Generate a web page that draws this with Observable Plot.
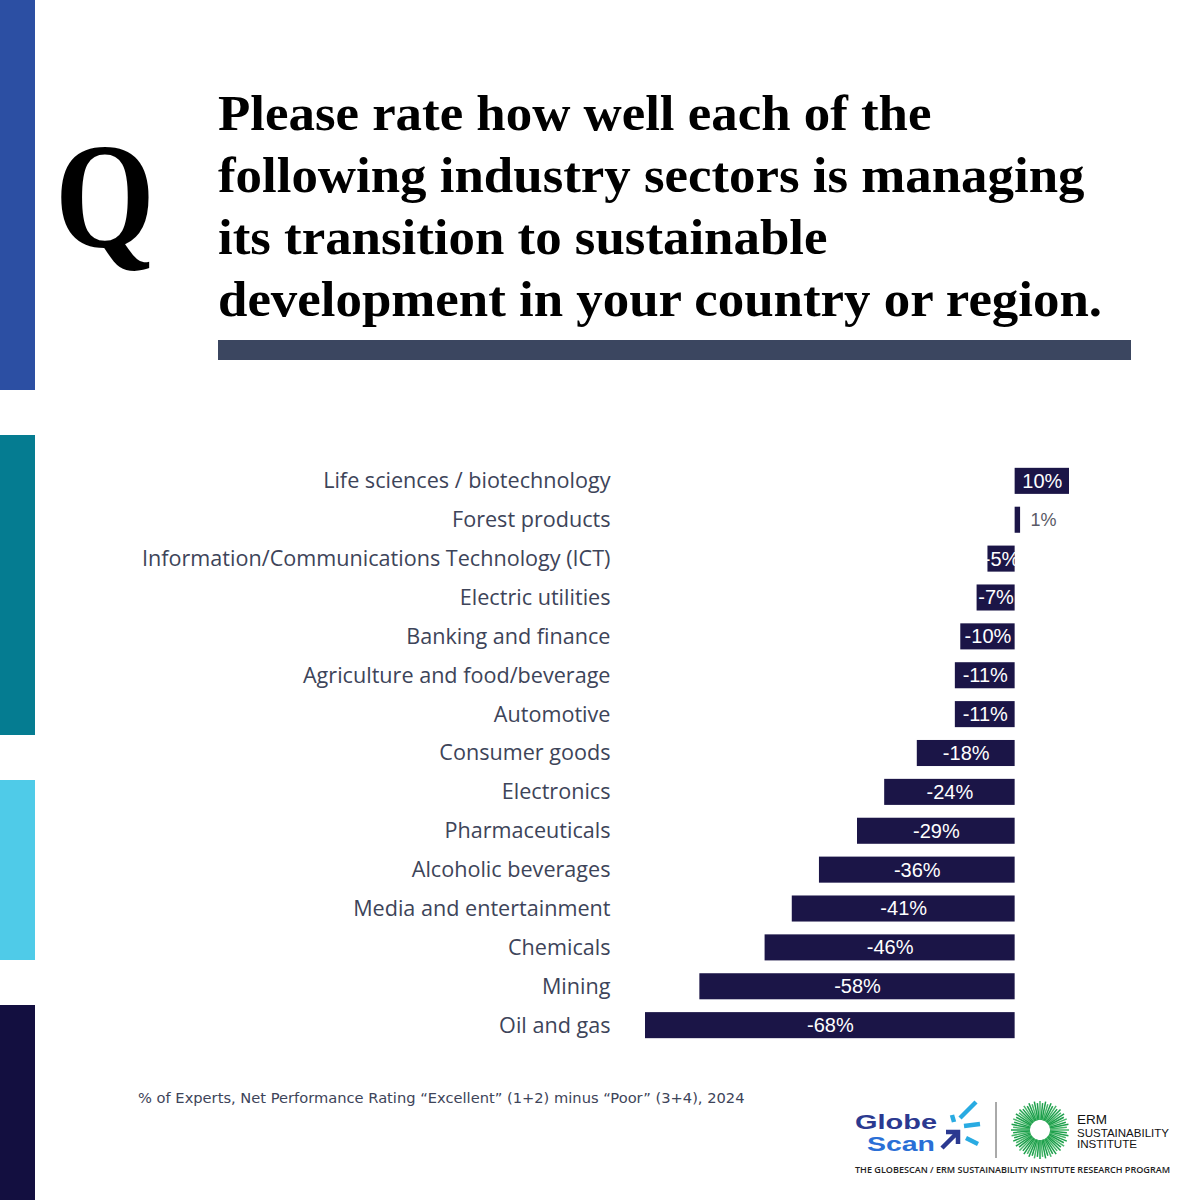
<!DOCTYPE html>
<html>
<head>
<meta charset="utf-8">
<script src="https://cdn.jsdelivr.net/npm/d3@7"></script>
<script src="https://cdn.jsdelivr.net/npm/@observablehq/plot@0.6"></script>
<style>
  html, body { margin: 0; padding: 0; background: #ffffff; }
  body { width: 1200px; height: 1200px; position: relative; overflow: hidden; }
  .stripe { position: absolute; left: 0; width: 35px; }
  #q { position: absolute; left: 55px; top: 96px; font-family: "Liberation Serif", serif; font-weight: 700;
       font-size: 150px; line-height: 200px; color: #000; transform: scaleX(0.855); transform-origin: left top; }
  #title { position: absolute; left: 218px; top: 82px; font-family: "Liberation Serif", serif; font-weight: 700;
           color: #000; font-size: 50px; line-height: 62px; white-space: nowrap; transform-origin: left top; }
  #rule { position: absolute; left: 218px; top: 340px; width: 913px; height: 20px; background: #3b4660; }
  #chart { position: absolute; left: 0; top: 440px; }
  #caption { position: absolute; left: 138px; top: 1089px; font-family: "DejaVu Sans", sans-serif; font-size: 13px;
             color: #3d4459; white-space: nowrap; }
  #logo { position: absolute; left: 840px; top: 1090px; }
</style>
</head>
<body>
<div class="stripe" style="top:0;height:390px;background:#2c4fa3"></div>
<div class="stripe" style="top:435px;height:300px;background:#057c91"></div>
<div class="stripe" style="top:780px;height:180px;background:#4fcbe8"></div>
<div class="stripe" style="top:1005px;height:195px;background:#130f40"></div>

<div id="q">Q</div>
<div id="title">
  <div class="tl">Please rate how well each of the</div>
  <div class="tl">following industry sectors is managing</div>
  <div class="tl">its transition to sustainable</div>
  <div class="tl">development in your country or region.</div>
</div>
<div id="rule"></div>
<div id="chart"></div>
<div id="caption">% of Experts, Net Performance Rating “Excellent” (1+2) minus “Poor” (3+4), 2024</div>
<svg id="logo" width="360" height="110" viewBox="0 0 360 110"></svg>

<script>
// ---- Data ----
const sectors = [
  "Life sciences / biotechnology",
  "Forest products",
  "Information/Communications Technology (ICT)",
  "Electric utilities",
  "Banking and finance",
  "Agriculture and food/beverage",
  "Automotive",
  "Consumer goods",
  "Electronics",
  "Pharmaceuticals",
  "Alcoholic beverages",
  "Media and entertainment",
  "Chemicals",
  "Mining",
  "Oil and gas"
];
const netRatings = [10, 1, -5, -7, -10, -11, -11, -18, -24, -29, -36, -41, -46, -58, -68];
const valueLabels = ["10%", "1%", "-5%", "-7%", "-10%", "-11%", "-11%", "-18%", "-24%", "-29%", "-36%", "-41%", "-46%", "-58%", "-68%"];

const rows = sectors.map((s, i) => ({sector: s, value: netRatings[i], label: valueLabels[i]}));
const inside = rows.filter(d => Math.abs(d.value) >= 5);
const outside = rows.filter(d => Math.abs(d.value) < 5);

const chart = Plot.plot({
  width: 1200,
  height: 640,
  marginLeft: 645,
  marginRight: 131,
  marginTop: 15,
  marginBottom: 29,
  style: {background: "transparent", color: "#3d4459", fontFamily: "'Open Sans', 'Noto Sans', sans-serif"},
  x: {domain: [d3.min(netRatings), d3.max(netRatings)], axis: null},
  y: {domain: sectors, padding: 0.33, round: false, label: null, axis: null},
  marks: [
    Plot.barX(rows, {x: "value", y: "sector", fill: "#1b1547"}),
    Plot.axisY({tickSize: 0, tickPadding: 35, fontSize: 21.6, label: null}),
    Plot.text(inside, {x: d => d.value / 2, y: "sector", text: "label", fill: "#ffffff", fontSize: 20,
                       fontFamily: "'Liberation Sans', Arial, sans-serif"}),
    Plot.text(outside, {x: "value", y: "sector", text: "label", fill: "#5a5a66", fontSize: 18, dx: 10,
                        textAnchor: "start", fontFamily: "'Liberation Sans', Arial, sans-serif"})
  ]
});
document.getElementById("chart").appendChild(chart);

// ---- Fit title / caption widths to the reference ----
(function fit() {
  const title = document.getElementById("title");
  const lines = title.querySelectorAll(".tl");
  let w = 0;
  lines.forEach(l => { l.style.display = "inline-block"; w = Math.max(w, l.getBoundingClientRect().width); l.style.display = "block"; });
  title.style.transform = "scaleX(" + (884 / w).toFixed(4) + ")";
  const cap = document.getElementById("caption");
  const cw = cap.getBoundingClientRect().width;
  cap.style.fontSize = (13 * 607 / cw).toFixed(2) + "px";
})();

// ---- Logo (decorative) ----
(function drawLogo() {
  const svg = d3.select("#logo");
  const ffb = "'Liberation Sans', Arial, sans-serif";
  svg.append("text").attr("x", 15).attr("y", 39).attr("fill", "#2b3990")
    .attr("font-family", ffb).attr("font-weight", 700).attr("font-size", 19.5)
    .attr("textLength", 82).attr("lengthAdjust", "spacingAndGlyphs").text("Globe");
  svg.append("text").attr("x", 27).attr("y", 61).attr("fill", "#2a6fd6")
    .attr("font-family", ffb).attr("font-weight", 700).attr("font-size", 19.5)
    .attr("textLength", 68).attr("lengthAdjust", "spacingAndGlyphs").text("Scan");
  // burst icon
  const cyan = "#29abe2";
  [[120, 28, 136, 12], [124, 36, 140, 34], [126, 48, 138, 54], [112, 25, 114, 32]].forEach(([x1, y1, x2, y2]) =>
    svg.append("line").attr("x1", x1).attr("y1", y1).attr("x2", x2).attr("y2", y2)
      .attr("stroke", cyan).attr("stroke-width", 4.5).attr("stroke-linecap", "butt"));
  svg.append("path").attr("d", "M102 58 L116 44 M106 42 L118 42 L118 54")
    .attr("fill", "none").attr("stroke", "#2b3990").attr("stroke-width", 4.5);
  // divider
  svg.append("line").attr("x1", 156).attr("y1", 12).attr("x2", 156).attr("y2", 68)
    .attr("stroke", "#555").attr("stroke-width", 1);
  // sunburst
  const cx = 200, cy = 40;
  const g = svg.append("g");
  for (let i = 0; i < 64; i++) {
    const a = i / 64 * 2 * Math.PI;
    const r2 = i % 2 ? 27 : 29;
    g.append("line")
      .attr("x1", cx + 10 * Math.cos(a)).attr("y1", cy + 10 * Math.sin(a))
      .attr("x2", cx + r2 * Math.cos(a)).attr("y2", cy + r2 * Math.sin(a))
      .attr("stroke", i % 3 ? "#1ea04c" : "#48b66a").attr("stroke-width", 1.5);
  }
  const ff = "'Liberation Sans', Arial, sans-serif";
  svg.append("text").attr("x", 237).attr("y", 34).text("ERM")
    .attr("font-family", ff).attr("font-size", 13.5).attr("fill", "#111");
  svg.append("text").attr("x", 237).attr("y", 46.5).text("SUSTAINABILITY")
    .attr("font-family", ff).attr("font-size", 10.5).attr("fill", "#111")
    .attr("textLength", 92).attr("lengthAdjust", "spacingAndGlyphs");
  svg.append("text").attr("x", 237).attr("y", 58).text("INSTITUTE")
    .attr("font-family", ff).attr("font-size", 10.5).attr("fill", "#111")
    .attr("textLength", 60).attr("lengthAdjust", "spacingAndGlyphs");
  svg.append("text").attr("x", 15).attr("y", 83).text("THE GLOBESCAN / ERM SUSTAINABILITY INSTITUTE RESEARCH PROGRAM")
    .attr("font-family", "'Open Sans', sans-serif").attr("font-size", 8).attr("font-weight", 600).attr("fill", "#222")
    .attr("textLength", 315).attr("lengthAdjust", "spacingAndGlyphs");
})();
</script>
</body>
</html>
